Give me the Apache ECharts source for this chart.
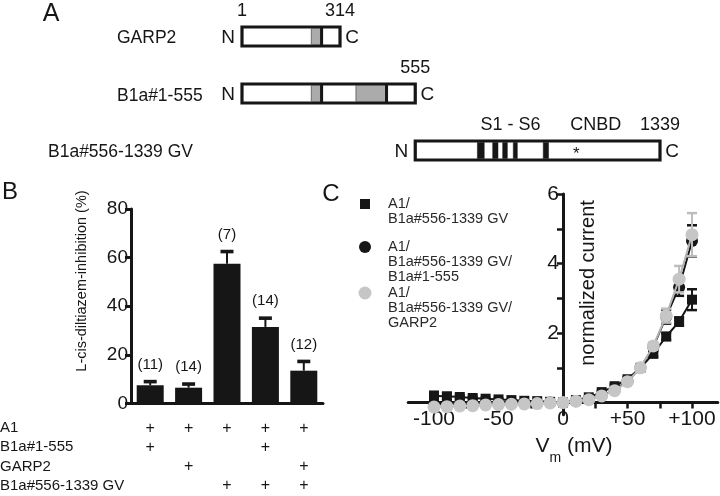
<!DOCTYPE html>
<html><head><meta charset="utf-8">
<script src="https://cdn.jsdelivr.net/npm/echarts@6/dist/echarts.min.js"></script>
<style>html,body{margin:0;padding:0;background:#fff}#c{width:720px;height:496px}</style>
</head><body><div id="c"></div>
<script>
// ---------- Panel A: construct schematic (residue numbers) ----------
const constructNames = ['GARP2', 'B1a#1-555', 'B1a#556-1339 GV'];
const constructBoxes = [[0, 0, 314], [1, 0, 555], [2, 555, 1339]];      // row, first, last residue
const greyRegions = [[0, 222, 252], [1, 222, 252], [1, 365, 460]];      // row, start, end
const dividers = [[0, 255], [1, 255], [1, 463]];                        // row, residue
const tmSegments = [[2, 754, 776], [2, 803, 820], [2, 835, 850], [2, 869, 882], [2, 965, 982]];
const cnbdStar = [[2, 1071]];
const residueLabels = [[0, 0, '1'], [0, 314, '314'], [1, 555, '555'], [2, 860, 'S1 - S6'], [2, 1133, 'CNBD'], [2, 1339, '1339']];

// ---------- Panel B: L-cis-diltiazem inhibition ----------
const groupsB = ['g1', 'g2', 'g3', 'g4', 'g5'];
const inhibition = [7.5, 6.5, 57.5, 31.5, 13.5];
const inhibitionSem = [1.5, 1.5, 5.0, 3.6, 3.8];
const nCells = ['(11)', '(14)', '(7)', '(14)', '(12)'];
const tableRows = ['A1', 'B1a#1-555', 'GARP2', 'B1a#556-1339 GV'];
const tableMarks = [[1, 1, 0, 0], [1, 0, 1, 0], [1, 0, 0, 1], [1, 1, 0, 1], [1, 0, 1, 1]];
const ticksB = [0, 20, 40, 60, 80];

// ---------- Panel C: normalized I-V ----------
const voltage = [-100, -90, -80, -70, -60, -50, -40, -30, -20, -10, 0, 10, 20, 30, 40, 50, 60, 70, 80, 90, 100];
const currGV = [0.19, 0.18, 0.16, 0.13, 0.11, 0.09, 0.07, 0.05, 0.04, 0.02, 0.00, 0.07, 0.15, 0.30, 0.47, 0.67, 1.00, 1.40, 1.90, 2.33, 2.96];
const errGV = [0.12, 0.09, 0.05, 0.04, 0.03, 0.03, 0.02, 0.02, 0.02, 0.01, 0, 0.02, 0.03, 0.04, 0.05, 0.06, 0, 0.08, 0.10, 0.12, 0.30];
const currB1a = [-0.06, -0.05, -0.04, -0.04, -0.03, -0.02, -0.02, -0.01, -0.01, 0.00, 0.00, 0.04, 0.09, 0.20, 0.36, 0.62, 1.00, 1.60, 2.47, 3.32, 4.65];
const errB1a = [0.10, 0.06, 0.04, 0.03, 0.03, 0.02, 0.02, 0.02, 0.01, 0.01, 0, 0.02, 0.03, 0.04, 0.05, 0.06, 0, 0.10, 0.20, 0.25, 0.45];
const currGARP2 = [-0.13, -0.12, -0.10, -0.09, -0.07, -0.06, -0.05, -0.04, -0.03, -0.01, 0.00, 0.04, 0.08, 0.19, 0.34, 0.60, 1.00, 1.63, 2.50, 3.55, 4.83];
const errGARP2 = [0.04, 0.03, 0.03, 0.02, 0.02, 0.02, 0.02, 0.02, 0.01, 0.01, 0, 0.02, 0.03, 0.04, 0.05, 0.06, 0, 0.10, 0.20, 0.38, 0.62];
const seriesNamesC = ['A1/\nB1a#556-1339 GV', 'A1/\nB1a#556-1339 GV/\nB1a#1-555', 'A1/\nB1a#556-1339 GV/\nGARP2'];
const xTicksC = [-100, -75, -50, -25, 0, 25, 50, 75, 100];
const xLabelsC = [-100, -50, 0, 50, 100];
const yTicksC = [1, 2, 3, 4, 5, 6];
const yLabelsC = [2, 4, 6];
const xRangeC = [-120, 120];
const yRangeC = [-0.35, 6];

const FONT = '"Liberation Sans", Arial, Helvetica, sans-serif';
const INK = '#161616';
const GREY = '#c6c6c6';

// panel C grid geometry; axes are shifted so that they cross at (0, 0)
const gridC = {left: 408.2, top: 194, width: 309.6, height: 220.7};
const yAxisShiftC = -gridC.width * (0 - xRangeC[0]) / (xRangeC[1] - xRangeC[0]);
const xAxisShiftC = -gridC.height * (0 - yRangeC[0]) / (yRangeC[1] - yRangeC[0]);

const chart = echarts.init(document.getElementById('c'), null, {renderer: 'canvas'});

function txt(text, x, y, size, align, color) {
  return {type: 'text', x: x, y: y, style: {text: text, fill: color || INK, font: size + 'px ' + FONT, align: align || 'left', verticalAlign: 'middle'}};
}

// ---- panel A renderers ----
const BOX_H = 19;
function renderBox(params, api) {
  const row = api.value(0);
  const p0 = api.coord([api.value(1), row]);
  const p1 = api.coord([api.value(2), row]);
  return {type: 'group', children: [
    {type: 'rect', shape: {x: p0[0], y: p0[1] - BOX_H / 2, width: p1[0] - p0[0], height: BOX_H}, style: {fill: '#fff', stroke: INK, lineWidth: 3.2}},
    {type: 'text', style: {text: 'N', x: p0[0] - 14, y: p0[1] + 1, align: 'center', verticalAlign: 'middle', font: '19px ' + FONT, fill: INK}},
    {type: 'text', style: {text: 'C', x: p1[0] + 12, y: p0[1] + 1, align: 'center', verticalAlign: 'middle', font: '19px ' + FONT, fill: INK}}
  ]};
}
function renderSeg(fill, stroke, lw) {
  return function (params, api) {
    const row = api.value(0);
    const p0 = api.coord([api.value(1), row]);
    const p1 = api.coord([api.value(2), row]);
    return {type: 'rect', shape: {x: p0[0], y: p0[1] - BOX_H / 2 + 1.5, width: p1[0] - p0[0], height: BOX_H - 3}, style: {fill: fill, stroke: stroke, lineWidth: lw}};
  };
}
function renderDivider(params, api) {
  const row = api.value(0);
  const p = api.coord([api.value(1), row]);
  return {type: 'rect', shape: {x: p[0] - 1.5, y: p[1] - BOX_H / 2, width: 3, height: BOX_H}, style: {fill: INK}};
}
function renderStar(params, api) {
  const p = api.coord([api.value(1), api.value(0)]);
  return {type: 'text', style: {text: '*', x: p[0], y: p[1] + 4, align: 'center', verticalAlign: 'middle', font: '17px ' + FONT, fill: INK}};
}
function renderResLabel(params, api) {
  const d = residueLabels[params.dataIndex];
  const p = api.coord([d[1], d[0]]);
  return {type: 'text', style: {text: d[2], x: p[0], y: p[1] - 25, align: 'center', verticalAlign: 'middle', font: '18px ' + FONT, fill: INK}};
}

// ---- panel B renderers ----
function renderErrB(params, api) {
  const i = api.value(0);
  const top = api.coord([i, api.value(1)]);
  const cap = api.coord([i, api.value(1) + api.value(2)]);
  return {type: 'group', children: [
    {type: 'line', shape: {x1: top[0], y1: top[1], x2: cap[0], y2: cap[1]}, style: {stroke: INK, lineWidth: 2}},
    {type: 'rect', shape: {x: cap[0] - 6.5, y: cap[1] - 1.8, width: 13, height: 3.6}, style: {fill: INK}},
    {type: 'text', style: {text: nCells[params.dataIndex], x: cap[0], y: cap[1] - 17, align: 'center', verticalAlign: 'middle', font: '15px ' + FONT, fill: INK}}
  ]};
}

// ---- panel C renderers ----
function errRenderer(color) {
  return function (params, api) {
    const x = api.value(0), y = api.value(1), e = api.value(2);
    if (!(e > 0.015)) return null;
    const lo = api.coord([x, y - e]);
    const hi = api.coord([x, y + e]);
    return {type: 'group', children: [
      {type: 'line', shape: {x1: lo[0], y1: lo[1], x2: hi[0], y2: hi[1]}, style: {stroke: color, lineWidth: 2}},
      {type: 'line', shape: {x1: hi[0] - 5, y1: hi[1], x2: hi[0] + 5, y2: hi[1]}, style: {stroke: color, lineWidth: 2.5}},
      {type: 'line', shape: {x1: lo[0] - 5, y1: lo[1], x2: lo[0] + 5, y2: lo[1]}, style: {stroke: color, lineWidth: 2.5}}
    ]};
  };
}
function pts(arr) { return voltage.map((v, i) => [v, arr[i]]); }
function errPts(arr, err) { return voltage.map((v, i) => [v, arr[i], err[i]]); }

// ---- graphic texts ----
const graphics = [
  txt('A', 51, 14, 25, 'center'),
  txt('B', 10, 192, 24, 'center'),
  txt('C', 331, 194, 24, 'center'),
  txt(constructNames[0], 117, 38, 17.5),
  txt(constructNames[1], 117, 96, 17.5),
  txt(constructNames[2], 48, 152, 17.5),
  {type: 'text', x: 82, y: 281, rotation: Math.PI / 2, style: {text: 'L-cis-diltiazem-inhibition (%)', fill: INK, font: '14.5px ' + FONT, align: 'center', verticalAlign: 'middle'}},
  {type: 'text', x: 588, y: 283, rotation: Math.PI / 2, style: {text: 'normalized current', fill: INK, font: '20px ' + FONT, align: 'center', verticalAlign: 'middle'}},
  {type: 'text', x: 574, y: 446, style: {
    text: '{v|V}{s|m}{v| (mV)}', fill: INK, align: 'center', verticalAlign: 'middle',
    rich: {v: {font: '21px ' + FONT, fill: INK}, s: {font: '14px ' + FONT, fill: INK, padding: [24, 0, 0, 0]}}
  }}
];
tableRows.forEach((r, k) => graphics.push(txt(r, 0, 428 + k * 19.3, 15)));
// legend for panel C
const legendY = [204, 247, 293];
graphics.push({type: 'rect', shape: {x: 360, y: 199, width: 10, height: 10}, style: {fill: INK}});
graphics.push({type: 'circle', shape: {cx: 365, cy: 247, r: 6}, style: {fill: INK}});
graphics.push({type: 'circle', shape: {cx: 365, cy: 293, r: 6.5}, style: {fill: GREY}});
seriesNamesC.forEach((n, k) => {
  n.split('\n').forEach((line, j) => graphics.push(txt(line, 388, legendY[k] + j * 15.2, 14.5, 'left', '#2a2a2a')));
});

const axisLineStyle = {color: INK, width: 3};

const option = {
  animation: false,
  backgroundColor: '#fff',
  textStyle: {fontFamily: FONT},
  grid: [
    {left: 242, top: 8, width: 418, height: 171},
    {left: 131, top: 209, width: 192, height: 194.5},
    gridC
  ],
  xAxis: [
    {gridIndex: 0, type: 'value', min: 0, max: 1339, show: false},
    {gridIndex: 1, type: 'category', data: groupsB,
      axisLine: {lineStyle: axisLineStyle},
      axisTick: {alignWithLabel: true, length: 5, lineStyle: {color: INK, width: 2}},
      axisLabel: {margin: 15, color: INK, fontSize: 16, lineHeight: 19.3, fontFamily: FONT,
        formatter: (v, i) => tableMarks[i].map(m => m ? '+' : ' ').join('\n')}},
    {gridIndex: 2, type: 'value', min: xRangeC[0], max: xRangeC[1], splitLine: {show: false},
      offset: xAxisShiftC,
      axisLine: {onZero: false, lineStyle: axisLineStyle},
      axisTick: {customValues: xTicksC, length: 6, lineStyle: {color: INK, width: 2.5}},
      axisLabel: {customValues: xLabelsC, margin: 6, color: INK, fontSize: 21, fontFamily: FONT,
        formatter: v => v > 0 ? '+' + v : String(v)}}
  ],
  yAxis: [
    {gridIndex: 0, type: 'category', data: constructNames, inverse: true, show: false},
    {gridIndex: 1, type: 'value', min: 0, max: 80, interval: 20, splitLine: {show: false},
      axisLine: {show: true, lineStyle: axisLineStyle},
      axisTick: {show: true, length: 6, lineStyle: {color: INK, width: 3}},
      axisLabel: {customValues: ticksB, margin: 3, color: INK, fontSize: 19, fontFamily: FONT}},
    {gridIndex: 2, type: 'value', min: yRangeC[0], max: yRangeC[1], splitLine: {show: false},
      offset: yAxisShiftC,
      axisLine: {show: true, onZero: false, lineStyle: axisLineStyle},
      axisTick: {show: true, customValues: yTicksC, length: 6, lineStyle: {color: INK, width: 2.5}},
      axisLabel: {customValues: yLabelsC, margin: 4, color: INK, fontSize: 21, fontFamily: FONT}}
  ],
  graphic: graphics,
  series: [
    // panel A
    {type: 'custom', xAxisIndex: 0, yAxisIndex: 0, renderItem: renderBox, data: constructBoxes, z: 1},
    {type: 'custom', xAxisIndex: 0, yAxisIndex: 0, renderItem: renderSeg('#ababab', '#555', 0.8), data: greyRegions, z: 2},
    {type: 'custom', xAxisIndex: 0, yAxisIndex: 0, renderItem: renderDivider, data: dividers, z: 3},
    {type: 'custom', xAxisIndex: 0, yAxisIndex: 0, renderItem: renderSeg(INK, INK, 0.5), data: tmSegments, z: 3},
    {type: 'custom', xAxisIndex: 0, yAxisIndex: 0, renderItem: renderStar, data: cnbdStar, z: 3},
    {type: 'custom', xAxisIndex: 0, yAxisIndex: 0, renderItem: renderResLabel, data: residueLabels.map(d => [d[1], d[0]]), z: 3},
    // panel B
    {type: 'bar', xAxisIndex: 1, yAxisIndex: 1, data: inhibition, barWidth: 27, itemStyle: {color: INK}, z: 2},
    {type: 'custom', xAxisIndex: 1, yAxisIndex: 1, renderItem: renderErrB, data: inhibition.map((v, i) => [i, v, inhibitionSem[i]]), z: 3},
    // panel C
    {type: 'custom', xAxisIndex: 2, yAxisIndex: 2, renderItem: errRenderer(INK), data: errPts(currGV, errGV), z: 2},
    {type: 'line', name: seriesNamesC[0], xAxisIndex: 2, yAxisIndex: 2, data: pts(currGV), symbol: 'rect', symbolSize: 10,
      lineStyle: {color: INK, width: 2}, itemStyle: {color: INK}, z: 3},
    {type: 'custom', xAxisIndex: 2, yAxisIndex: 2, renderItem: errRenderer(INK), data: errPts(currB1a, errB1a), z: 4},
    {type: 'line', name: seriesNamesC[1], xAxisIndex: 2, yAxisIndex: 2, data: pts(currB1a), symbol: 'circle', symbolSize: 12,
      lineStyle: {color: INK, width: 2}, itemStyle: {color: INK}, z: 5},
    {type: 'custom', xAxisIndex: 2, yAxisIndex: 2, renderItem: errRenderer('#bdbdbd'), data: errPts(currGARP2, errGARP2), z: 6},
    {type: 'line', name: seriesNamesC[2], xAxisIndex: 2, yAxisIndex: 2, data: pts(currGARP2), symbol: 'circle', symbolSize: 13,
      lineStyle: {color: '#b4b4b4', width: 2}, itemStyle: {color: GREY}, z: 7}
  ]
};
chart.setOption(option);
</script>
</body></html>
